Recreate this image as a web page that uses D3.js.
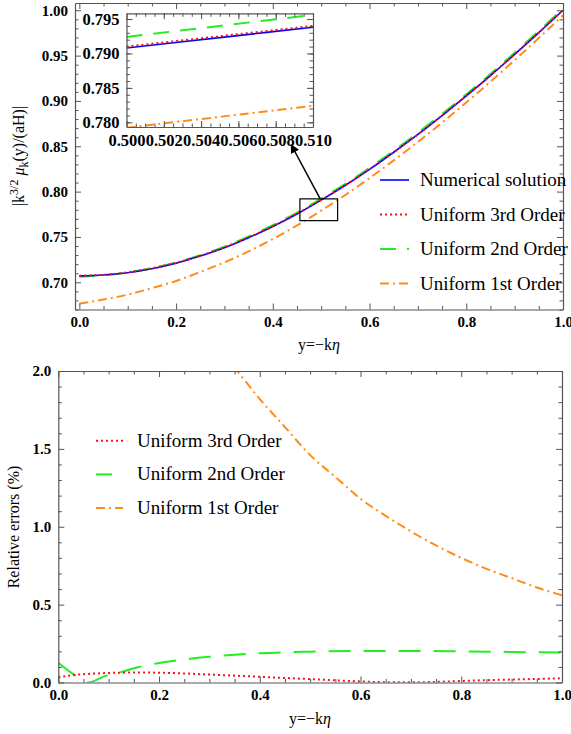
<!DOCTYPE html>
<html>
<head>
<meta charset="utf-8">
<script src="https://cdn.jsdelivr.net/npm/d3@7"></script>
<style>
  body { margin: 0; background: #fff; }
  text { font-family: "Liberation Serif", "Times New Roman", serif; fill: #000; }
  .tick text { font-weight: bold; font-size: 15px; }
  .inset .tick text { font-size: 16.5px; }
</style>
</head>
<body>
<svg id="chart" width="571" height="734"></svg>
<script>
// ---- data ----
const yGrid = [0, 0.05, 0.1, 0.15, 0.2, 0.25, 0.3, 0.35, 0.4, 0.45, 0.5,
               0.55, 0.6, 0.65, 0.7, 0.75, 0.8, 0.85, 0.9, 0.95, 1.0];
const numerical = [0.7071, 0.7080, 0.7106, 0.7150, 0.7211, 0.7289, 0.7382, 0.7492, 0.7616, 0.7754, 0.7906,
                   0.8070, 0.8246, 0.8434, 0.8631, 0.8839, 0.9055, 0.9280, 0.9513, 0.9753, 1.0000];
const uniform3 = [0.7073, 0.7083, 0.7110, 0.7155, 0.7216, 0.7293, 0.7386, 0.7495, 0.7619, 0.7756, 0.7908,
                  0.8071, 0.8247, 0.8434, 0.8631, 0.8839, 0.9056, 0.9281, 0.9515, 0.9755, 1.0003];
const uniform2 = [0.7062, 0.7079, 0.7109, 0.7156, 0.7220, 0.7300, 0.7394, 0.7505, 0.7630, 0.7769, 0.7922,
                  0.8086, 0.8263, 0.8451, 0.8649, 0.8857, 0.9073, 0.9298, 0.9532, 0.9772, 1.0019];
const uniform1 = [0.6765, 0.6810, 0.6864, 0.6936, 0.7015, 0.7114, 0.7220, 0.7341, 0.7477, 0.7627, 0.7791,
                  0.7963, 0.8149, 0.8344, 0.8547, 0.8761, 0.8983, 0.9212, 0.9449, 0.9694, 0.9944];

const insetGrid = [0.500, 0.505, 0.510];
const insetNumerical = [0.7908, 0.7923, 0.7938];
const insetUniform3 = [0.7910, 0.7925, 0.7940];
const insetUniform2 = [0.7924, 0.7940, 0.7956];
const insetUniform1 = [0.7792, 0.7808, 0.7824];

const err3X = [0, 0.03, 0.07, 0.1, 0.15, 0.2, 0.25, 0.3, 0.35, 0.4, 0.45, 0.5, 0.55, 0.6, 0.65, 0.7, 0.75, 0.8, 0.85, 0.9, 0.95, 1.0];
const err3 = [0.033, 0.048, 0.057, 0.061, 0.064, 0.063, 0.058, 0.051, 0.044, 0.037, 0.029, 0.022, 0.014, 0.007, 0.002, 0.001, 0.004, 0.010, 0.015, 0.019, 0.023, 0.027];
const err2X = [0, 0.027, 0.06, 0.09, 0.127, 0.158, 0.2, 0.25, 0.3, 0.35, 0.4, 0.5, 0.6, 0.7, 0.8, 0.9, 1.0];
const err2 = [0.127, 0.060, 0.0, 0.038, 0.069, 0.098, 0.125, 0.148, 0.165, 0.178, 0.188, 0.198, 0.203, 0.203, 0.200, 0.196, 0.192];
const err1X = [0.25, 0.3, 0.35, 0.4, 0.45, 0.5, 0.55, 0.6, 0.65, 0.7, 0.75, 0.8, 0.85, 0.9, 0.95, 1.0];
const err1 = [2.40, 2.20, 2.02, 1.82, 1.64, 1.46, 1.32, 1.18, 1.07, 0.97, 0.88, 0.80, 0.73, 0.67, 0.61, 0.56];

const xTicks = [0, 0.2, 0.4, 0.6, 0.8, 1.0];
const topYTicks = [0.70, 0.75, 0.80, 0.85, 0.90, 0.95, 1.00];
const insetXTicks = [0.500, 0.502, 0.504, 0.506, 0.508, 0.510];
const insetYTicks = [0.780, 0.785, 0.790, 0.795];
const botYTicks = [0, 0.5, 1.0, 1.5, 2.0];
const topLegend = ["Numerical solution", "Uniform 3rd Order", "Uniform 2nd Order", "Uniform 1st Order"];
const botLegend = ["Uniform 3rd Order", "Uniform 2nd Order", "Uniform 1st Order"];

// zoom box and arrow in data units of the top panel
const zoomBox = [[0.456, 0.768], [0.534, 0.792]];
const arrowPts = [[0.498, 0.7921], [0.438, 0.8517]];

// ---- styles ----
const styles = {
  num: { color: "#0000ff", dash: null, w: 1.6 },
  u3:  { color: "#ff1010", dash: "2,3", w: 2 },
  u2:  { color: "#22ee22", dash: "16,11", w: 2 },
  u1:  { color: "#ff8c1a", dash: "9,4,2,4", w: 2 }
};
const u2Bottom = { color: "#22ee22", dash: "22,13", w: 2 };

const svg = d3.select("#chart");
svg.append("rect").attr("width", 571).attr("height", 734).attr("fill", "#fff");

function drawFrame(g, x, y, o) {
  const x0 = x.range()[0], x1 = x.range()[1], yb = y.range()[0], yt = y.range()[1];
  const axes = [
    [d3.axisBottom(x), `translate(0,${yb})`, o.xMajor, o.xMinor, o.xFmt],
    [d3.axisTop(x), `translate(0,${yt})`, o.xMajor, o.xMinor, null],
    [d3.axisLeft(y), `translate(${x0},0)`, o.yMajor, o.yMinor, o.yFmt],
    [d3.axisRight(y), `translate(${x1},0)`, o.yMajor, o.yMinor, null]
  ];
  for (const [ax, tr, maj, min, fmt] of axes) {
    const g1 = g.append("g").attr("transform", tr).attr("color", "#555")
      .call(ax.tickValues(maj).tickSize(-6).tickSizeOuter(0).tickPadding(7)
        .tickFormat(fmt ? fmt : () => ""));
    g1.select(".domain").attr("stroke-width", 1.2);
    g.append("g").attr("transform", tr).attr("color", "#555")
      .call(ax.tickValues(min).tickSize(-3.5).tickFormat(() => ""))
      .select(".domain").remove();
  }
}

function addLine(g, x, y, xs, ys, st) {
  const line = d3.line().x((d, i) => x(xs[i])).y(d => y(d)).curve(d3.curveMonotoneX);
  g.append("path").attr("d", line(ys)).attr("fill", "none")
    .attr("stroke", st.color).attr("stroke-width", st.w)
    .attr("stroke-dasharray", st.dash);
}

// ---------- top panel ----------
const xT = d3.scaleLinear().domain([-0.009, 1.0]).range([75, 563]);
const yT = d3.scaleLinear().domain([0.670, 1.008]).range([309.5, 3]);
const topPanel = svg.append("g");
svg.append("clipPath").attr("id", "clipT").append("rect")
  .attr("x", 75).attr("y", 3).attr("width", 488).attr("height", 306.5);
const topCurves = topPanel.append("g").attr("clip-path", "url(#clipT)");
addLine(topCurves, xT, yT, yGrid, uniform1, styles.u1);
addLine(topCurves, xT, yT, yGrid, uniform2, styles.u2);
addLine(topCurves, xT, yT, yGrid, numerical, styles.num);
addLine(topCurves, xT, yT, yGrid, uniform3, styles.u3);

drawFrame(topPanel, xT, yT, {
  xMajor: xTicks, xMinor: d3.range(0, 1.001, 0.05).filter(v => Math.round(v * 100) % 20 !== 0),
  yMajor: topYTicks, yMinor: d3.range(0.67, 1.008, 0.01).filter(v => Math.round(v * 100) % 5 !== 0),
  xFmt: d3.format(".1f"), yFmt: d3.format(".2f")
});

// zoom box + arrow
topPanel.append("rect")
  .attr("x", xT(zoomBox[0][0])).attr("y", yT(zoomBox[1][1]))
  .attr("width", xT(zoomBox[1][0]) - xT(zoomBox[0][0]))
  .attr("height", yT(zoomBox[0][1]) - yT(zoomBox[1][1]))
  .attr("fill", "none").attr("stroke", "#000").attr("stroke-width", 1.2);
svg.append("defs").append("marker").attr("id", "arrow")
  .attr("viewBox", "0 0 10 10").attr("refX", 9).attr("refY", 5)
  .attr("markerWidth", 9).attr("markerHeight", 9).attr("markerUnits", "userSpaceOnUse")
  .attr("orient", "auto")
  .append("path").attr("d", "M0,0 L10,5 L0,10 z").attr("fill", "#000");
topPanel.append("line")
  .attr("x1", xT(arrowPts[0][0])).attr("y1", yT(arrowPts[0][1]))
  .attr("x2", xT(arrowPts[1][0])).attr("y2", yT(arrowPts[1][1]))
  .attr("stroke", "#000").attr("stroke-width", 1.5).attr("marker-end", "url(#arrow)");

// inset
const xI = d3.scaleLinear().domain([0.500, 0.510]).range([126.5, 313]);
const yI = d3.scaleLinear().domain([0.77932, 0.79583]).range([127, 13.3]);
const inset = svg.append("g").attr("class", "inset");
inset.append("rect").attr("x", 126.5).attr("y", 13.3).attr("width", 186.5).attr("height", 113.7).attr("fill", "#fff");
svg.append("clipPath").attr("id", "clipI").append("rect")
  .attr("x", 126.5).attr("y", 13.3).attr("width", 186.5).attr("height", 113.7);
const insetCurves = inset.append("g").attr("clip-path", "url(#clipI)");
addLine(insetCurves, xI, yI, insetGrid, insetUniform1, styles.u1);
addLine(insetCurves, xI, yI, insetGrid, insetUniform2, styles.u2);
addLine(insetCurves, xI, yI, insetGrid, insetNumerical, styles.num);
addLine(insetCurves, xI, yI, insetGrid, insetUniform3, styles.u3);
drawFrame(inset, xI, yI, {
  xMajor: insetXTicks, xMinor: d3.range(0.5005, 0.5101, 0.0005),
  yMajor: insetYTicks, yMinor: d3.range(0.780, 0.7958, 0.001),
  xFmt: d3.format(".3f"), yFmt: d3.format(".3f")
});

// top legend
const topStyles = [styles.num, styles.u3, styles.u2, styles.u1];
topLegend.forEach((name, i) => {
  const cy = 180 + i * 34.5;
  const st = topStyles[i];
  topPanel.append("line").attr("x1", 380).attr("x2", 409).attr("y1", cy).attr("y2", cy)
    .attr("stroke", st.color).attr("stroke-width", st.w).attr("stroke-dasharray", st.dash);
  topPanel.append("text").attr("x", 420).attr("y", cy + 6).attr("font-size", 19).text(name);
});

// top labels
topPanel.append("text").attr("x", 319).attr("y", 350).attr("text-anchor", "middle").attr("font-size", 16)
  .html('y=\u2212k<tspan font-style="italic">\u03b7</tspan>');
topPanel.append("text").attr("transform", "translate(24,156) rotate(-90)").attr("text-anchor", "middle").attr("font-size", 16)
  .html('|k<tspan dy="-6" font-size="12">3/2</tspan><tspan dy="6"> </tspan><tspan font-style="italic">\u03bc</tspan><tspan dy="4" font-size="12">k</tspan><tspan dy="-4">(y)/(aH)|</tspan>');

// ---------- bottom panel ----------
const xB = d3.scaleLinear().domain([0, 1.0]).range([58.3, 562]);
const yB = d3.scaleLinear().domain([0, 2.0]).range([682.5, 371]);
const bot = svg.append("g");
svg.append("clipPath").attr("id", "clipB").append("rect")
  .attr("x", 58.3).attr("y", 371).attr("width", 503.7).attr("height", 311.5);
const botCurves = bot.append("g").attr("clip-path", "url(#clipB)");
addLine(botCurves, xB, yB, err1X, err1, styles.u1);
addLine(botCurves, xB, yB, err2X, err2, u2Bottom);
addLine(botCurves, xB, yB, err3X, err3, styles.u3);
drawFrame(bot, xB, yB, {
  xMajor: xTicks, xMinor: d3.range(0, 1.001, 0.05).filter(v => Math.round(v * 100) % 20 !== 0),
  yMajor: botYTicks, yMinor: d3.range(0, 2.001, 0.1).filter(v => Math.round(v * 10) % 5 !== 0),
  xFmt: d3.format(".1f"), yFmt: d3.format(".1f")
});

const botStyles = [styles.u3, styles.u2, styles.u1];
botLegend.forEach((name, i) => {
  const cy = 440.7 + i * 33.7;
  const st = botStyles[i];
  bot.append("line").attr("x1", 96).attr("x2", 123).attr("y1", cy).attr("y2", cy)
    .attr("stroke", st.color).attr("stroke-width", st.w).attr("stroke-dasharray", st.dash);
  bot.append("text").attr("x", 137).attr("y", cy + 6).attr("font-size", 19).text(name);
});

bot.append("text").attr("x", 310).attr("y", 724).attr("text-anchor", "middle").attr("font-size", 16)
  .html('y=\u2212k<tspan font-style="italic">\u03b7</tspan>');
bot.append("text").attr("transform", "translate(19,527) rotate(-90)").attr("text-anchor", "middle").attr("font-size", 16)
  .text("Relative errors (%)");
</script>
</body>
</html>
